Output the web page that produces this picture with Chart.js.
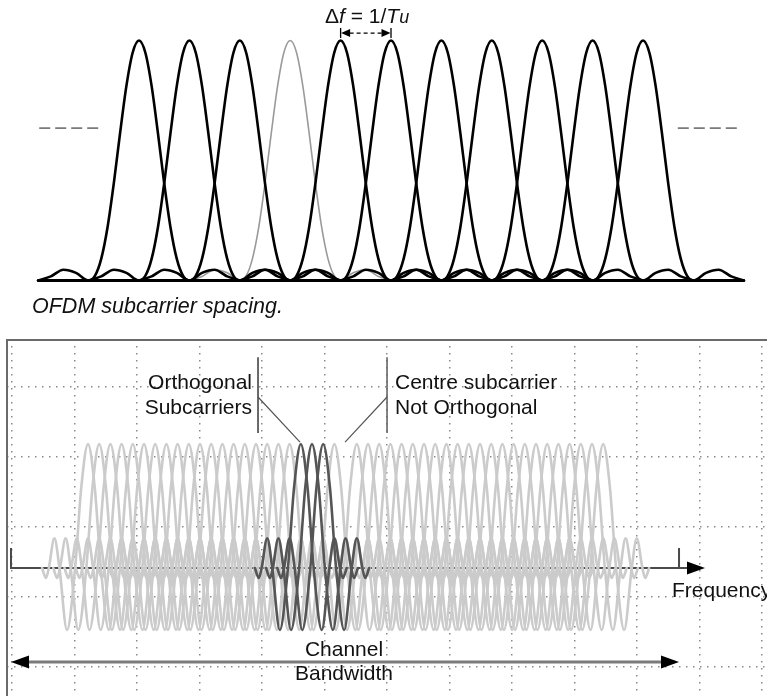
<!DOCTYPE html>
<html><head><meta charset="utf-8">
<script src="https://cdn.jsdelivr.net/npm/chart.js@4.4.1/dist/chart.umd.min.js"></script>
<style>
html,body{margin:0;padding:0;background:#fff;}
#wrap{position:relative;width:767px;height:696px;overflow:hidden;font-family:"Liberation Sans",Arial,Helvetica,sans-serif;color:#111;}
canvas{position:absolute;left:0;}
#c1{top:0;}
#c2{top:339px;}
.t{position:absolute;font-size:21px;line-height:21px;white-space:nowrap;}
.r{text-align:right;}
.c{transform:translateX(-50%);}
</style></head><body>
<div id="wrap">
<canvas id="c1" width="767" height="300"></canvas>
<canvas id="c2" width="767" height="357"></canvas>
<div class="t" style="left:325px;top:4.7px;">Δ<i>f</i> = 1/<i>T<span style="font-size:18px">u</span></i></div>
<div class="t" style="left:32px;top:295.5px;font-size:21.5px;line-height:21.5px;font-style:italic;">OFDM subcarrier spacing.</div>
<div class="t r" style="right:515px;top:371.2px;">Orthogonal</div>
<div class="t r" style="right:515px;top:396.2px;">Subcarriers</div>
<div class="t" style="left:395px;top:371.2px;">Centre subcarrier</div>
<div class="t" style="left:395px;top:396.2px;">Not Orthogonal</div>
<div class="t" style="left:672px;top:579.2px;">Frequency</div>
<div class="t c" style="left:344px;top:638.2px;">Channel</div>
<div class="t c" style="left:344px;top:662.2px;">Bandwidth</div>
</div>
<script>
// ---------- DATA ----------
// Top chart: subcarrier indices (spacing = 1/Tu) and the one drawn in grey
const topCenters = [0, 1, 2, 3, 4, 5, 6, 7, 8, 9, 10];
const topGreyIndex = 3;
// Power-spectrum pulse shape of one subcarrier
const specOffsets = [-2, -1.75, -1.5, -1.25, -1, -0.875, -0.75, -0.625, -0.5, -0.375, -0.25, -0.125, 0,
                     0.125, 0.25, 0.375, 0.5, 0.625, 0.75, 0.875, 1, 1.25, 1.5, 1.75, 2];
const specValues  = [0, 0.017, 0.045, 0.032, 0, 0.019, 0.09, 0.221, 0.405, 0.615, 0.811, 0.95, 1,
                     0.95, 0.811, 0.615, 0.405, 0.221, 0.09, 0.019, 0, 0.032, 0.045, 0.017, 0];
// Bottom chart: light subcarriers and the dark (highlighted) ones
const lightCenters = [-20, -19, -18, -17, -16, -15, -14, -13, -12, -11, -10, -9, -8, -7, -6, -5, -4, -3, -2,
                      2, 4, 5, 6, 7, 8, 9, 10, 11, 12, 13, 14, 15, 16, 17, 18, 19, 20, 21, 22, 23, 24, 25, 26];
const darkCenters = [-1, 0, 1];
// Amplitude shape of one subcarrier in the lower picture
const pulseOffsets = [-4.1, -3.75, -3.5, -3.0, -2.55, -1.875, -1.15, -0.6, 0, 0.6, 1.15, 1.875, 2.55, 3.0, 3.5, 3.75, 4.1];
const pulseValues  = [0, -0.08, 0, 0.24, 0, -0.5, 0, 0.65, 1, 0.65, 0, -0.5, 0, 0.24, 0, -0.08, 0];

// ---------- helpers ----------
function shifted(c, offs, vals){ return offs.map((o,i)=>({x:c+o, y:vals[i]})); }
function arrowHead(ctx, tx, ty, dir, len, half){
  ctx.beginPath(); ctx.moveTo(tx, ty); ctx.lineTo(tx - dir*len, ty - half); ctx.lineTo(tx - dir*len, ty + half); ctx.closePath(); ctx.fill();
}
const common = {responsive:false, maintainAspectRatio:false, animation:false, events:[],
  layout:{padding:0}, plugins:{legend:{display:false}, tooltip:{enabled:false}},
  elements:{point:{radius:0}, line:{cubicInterpolationMode:'monotone', borderCapStyle:'round', borderJoinStyle:'round'}}};

// ---------- TOP CHART ----------
const topDatasets = [];
topCenters.forEach((c,i)=>{
  const grey = i === topGreyIndex;
  topDatasets.push({data: shifted(c, specOffsets, specValues), borderColor: grey ? '#9a9a9a' : '#000',
    borderWidth: grey ? 1.6 : 2.6, order: grey ? 3 : 2, fill:false});
});
topDatasets.push({data:[{x:topCenters[0]-2, y:0},{x:topCenters[topCenters.length-1]+2, y:0}], borderColor:'#000', borderWidth:3, order:1});

const ellipsis = {level:0.635, left:[-1.98,-0.73], right:[10.69,11.94]};
const spacingArrowLevel = 1.031;
const topDeco = {id:'topDeco', afterDatasetsDraw(chart){
  const {ctx, scales:{x,y}} = chart; ctx.save();
  ctx.strokeStyle='#7a7a7a'; ctx.lineWidth=1.6; ctx.setLineDash([11,5]);
  [ellipsis.left, ellipsis.right].forEach(s=>{ ctx.beginPath();
    ctx.moveTo(x.getPixelForValue(s[0]), y.getPixelForValue(ellipsis.level));
    ctx.lineTo(x.getPixelForValue(s[1]), y.getPixelForValue(ellipsis.level)); ctx.stroke(); });
  const x1 = x.getPixelForValue(topCenters[4]), x2 = x.getPixelForValue(topCenters[5]), yy = y.getPixelForValue(spacingArrowLevel);
  ctx.setLineDash([]); ctx.strokeStyle='#000'; ctx.fillStyle='#000'; ctx.lineWidth=1.3;
  ctx.beginPath(); ctx.moveTo(x1, yy-5); ctx.lineTo(x1, yy+5); ctx.moveTo(x2, yy-5); ctx.lineTo(x2, yy+5); ctx.stroke();
  ctx.setLineDash([4,3]); ctx.beginPath(); ctx.moveTo(x1+9, yy); ctx.lineTo(x2-9, yy); ctx.stroke(); ctx.setLineDash([]);
  arrowHead(ctx, x1+0.5, yy, -1, 9, 4); arrowHead(ctx, x2-0.5, yy, 1, 9, 4);
  ctx.restore(); }};

new Chart(document.getElementById('c1'), {type:'line', data:{datasets: topDatasets},
  options:Object.assign({}, common, {scales:{
    x:{type:'linear', display:false, min:-2.758, max:12.46},
    y:{type:'linear', display:false, min:-0.08125, max:1.16875}}}), plugins:[topDeco]});

// ---------- BOTTOM CHART ----------
const botDatasets = [];
darkCenters.forEach(c=> botDatasets.push({data: shifted(c, pulseOffsets, pulseValues), borderColor:'#555', borderWidth:2.6, order:1}));
lightCenters.forEach(c=> botDatasets.push({data: shifted(c, pulseOffsets, pulseValues), borderColor:'#cbcbcb', borderWidth:2.6, order:2}));

const xGridStart = -26.786, xGridStep = 5.5804, yGridStart = -0.7984, yGridStep = 0.5645;
const deco = {bandLeft:-26.875, bandRight:32.77, axisEnd:35.09, tickH:0.161, bandLevel:-0.758,
  orthoX:-4.82, orthoTarget:[-1.07, 1.016], centreX:6.70, centreTarget:[2.95, 1.016],
  ptrTop:1.70, ptrBottom:1.089, ptrJoin:1.379};
const botDeco = {id:'botDeco',
  beforeDatasetsDraw(chart){
    const {ctx, scales:{x,y}} = chart; ctx.save();
    // mask outside the frame, then frame
    ctx.fillStyle='#fff'; ctx.fillRect(0, 0, 7, chart.height);
    ctx.strokeStyle='#6a6a6a'; ctx.lineWidth=2; ctx.beginPath();
    ctx.moveTo(7, chart.height+5); ctx.lineTo(7, 1); ctx.lineTo(chart.width+5, 1); ctx.stroke();
    // frequency axis
    const y0 = y.getPixelForValue(0), yt = y.getPixelForValue(deco.tickH);
    const xl = x.getPixelForValue(deco.bandLeft), xr = x.getPixelForValue(deco.bandRight), xe = x.getPixelForValue(deco.axisEnd);
    ctx.strokeStyle='#4a4a4a'; ctx.lineWidth=2;
    ctx.beginPath(); ctx.moveTo(xl, yt); ctx.lineTo(xl, y0); ctx.lineTo(xe-14, y0); ctx.moveTo(xr, yt); ctx.lineTo(xr, y0); ctx.stroke();
    ctx.fillStyle='#000'; arrowHead(ctx, xe, y0, 1, 18, 6.5);
    // channel bandwidth arrow
    const yb = y.getPixelForValue(deco.bandLevel);
    ctx.strokeStyle='#7a7a7a'; ctx.lineWidth=3; ctx.beginPath(); ctx.moveTo(xl+14, yb); ctx.lineTo(xr-14, yb); ctx.stroke();
    arrowHead(ctx, xl, yb, -1, 18, 6.5); arrowHead(ctx, xr, yb, 1, 18, 6.5);
    ctx.restore(); },
  afterDatasetsDraw(chart){
    const {ctx, scales:{x,y}} = chart; ctx.save();
    const pt = y.getPixelForValue(deco.ptrTop), pb = y.getPixelForValue(deco.ptrBottom), pj = y.getPixelForValue(deco.ptrJoin);
    const ox = x.getPixelForValue(deco.orthoX), cx = x.getPixelForValue(deco.centreX);
    ctx.lineWidth=1.6; ctx.strokeStyle='#444';
    ctx.beginPath(); ctx.moveTo(ox, pt); ctx.lineTo(ox, pb); ctx.stroke();
    ctx.strokeStyle='#666';
    ctx.beginPath(); ctx.moveTo(cx, pt); ctx.lineTo(cx, pb); ctx.stroke();
    ctx.lineWidth=1.2; ctx.strokeStyle='#555';
    ctx.beginPath(); ctx.moveTo(ox, pj); ctx.lineTo(x.getPixelForValue(deco.orthoTarget[0]), y.getPixelForValue(deco.orthoTarget[1]));
    ctx.moveTo(cx, pj); ctx.lineTo(x.getPixelForValue(deco.centreTarget[0]), y.getPixelForValue(deco.centreTarget[1])); ctx.stroke();
    ctx.restore(); }};

const gridStyle = {drawTicks:false, color:'#8a8a8a', lineWidth:1.5};
new Chart(document.getElementById('c2'), {type:'line', data:{datasets: botDatasets},
  options:Object.assign({}, common, {scales:{
    x:{type:'linear', min:-27.857, max:40.625, ticks:{display:false}, border:{display:false, dash:[1.5,5.5]}, grid:gridStyle,
       afterBuildTicks:a=>{ const t=[]; for(let j=0;j<13;j++) t.push({value:xGridStart + j*xGridStep}); a.ticks=t; }},
    y:{type:'linear', min:-1.032, max:1.847, ticks:{display:false}, border:{display:false, dash:[1.5,5.5]}, grid:gridStyle,
       afterBuildTicks:a=>{ const t=[]; for(let j=0;j<5;j++) t.push({value:yGridStart + j*yGridStep}); a.ticks=t; }}}}), plugins:[botDeco]});
</script>
</body></html>
